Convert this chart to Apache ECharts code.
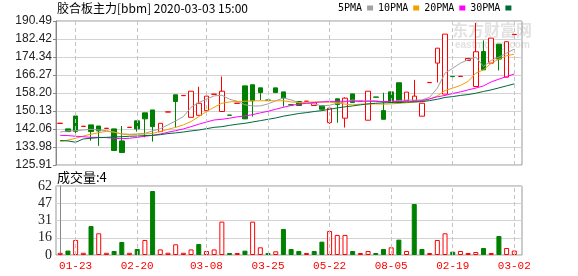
<!DOCTYPE html>
<html><head><meta charset="utf-8">
<script src="https://cdn.jsdelivr.net/npm/echarts@6/dist/echarts.min.js"></script>
<style>html,body{margin:0;padding:0;background:#fff}#c{width:578px;height:276px}</style>
</head><body><div id="c"></div>
<script>
const opens  = [144.55,142.1,147.9,143.2,143.9,143.4,142.3,142.1,136.7,142.75,145.7,149.3,150.6,140.9,149.65,157.4,157.0,147.3,148.2,150.3,157.6,149.9,148.3,153.55,161.4,161.9,160.5,155.05,160.5,158.7,152.95,154.4,154.45,152.6,152.6,144.9,155.6,146.9,157.8,154.45,146.0,156.4,150.3,158.7,162.8,154.7,154.7,147.8,162.85,171.6,157.7,165.65,165.6,172.8,161.1,176.8,171.6,180.1,165.3,184.4];
const closes = [144.65,140.9,141.0,143.3,140.9,141.2,142.4,132.4,131.5,142.85,142.1,146.6,143.1,144.6,149.75,154.4,157.1,159.0,153.6,156.8,157.7,159.0,148.2,153.65,146.6,154.7,158.4,154.95,158.4,156.0,152.85,152.6,154.55,153.8,150.9,151.4,153.0,155.9,153.9,154.55,159.0,156.3,146.4,154.0,153.8,158.6,156.8,153.6,162.95,178.3,184.6,165.55,165.7,173.7,176.7,168.6,182.8,173.4,181.2,184.5];
const lows   = [144.55,140.9,140.2,143.2,136.8,134.5,142.3,132.4,131.5,142.75,140.9,138.3,136.4,140.9,149.65,142.8,157.0,147.3,148.2,150.3,157.6,149.9,148.2,153.55,146.6,147.6,155.1,154.95,158.4,152.1,152.85,152.6,154.45,152.6,150.9,144.3,144.9,142.7,153.9,154.45,146.0,156.3,146.4,154.0,153.8,154.7,154.7,147.8,162.85,162.9,157.7,165.55,165.6,172.8,161.1,168.6,171.6,168.3,165.3,184.4];
const highs  = [144.65,142.1,147.9,143.3,143.9,143.4,142.4,142.1,143.4,142.85,145.7,149.3,150.6,144.6,149.75,157.4,157.1,159.0,161.0,156.8,157.7,165.6,148.3,153.65,161.4,161.9,160.5,155.05,160.5,158.7,152.95,154.4,154.55,153.8,152.6,151.4,155.6,156.3,157.8,154.55,159.0,156.4,158.3,158.7,162.8,158.6,164.1,153.6,162.95,178.3,184.6,165.65,165.7,173.7,189.6,181.8,182.8,180.1,181.2,184.5];
const volumes = [2,4,13.5,2,26,19.5,2,3.6,11.7,2,5.4,13.5,57.5,5,2,9.6,2,5,9.9,3.6,5,30,1.8,1.8,3.9,30,6.9,1.8,3.3,23.4,5.4,3.6,1.8,3.6,12,21.6,18,18,3.6,1.8,3.6,1.8,5.4,6.9,13.8,3.6,45.8,5.4,1.8,13.5,19.5,3,3.6,1.8,2.7,6.3,1.8,17.1,6.3,4];
const ma5  = [140.7,141.2,141.3,141.6,141.9,141.6,141.3,140.7,139.8,139.7,139.8,140.1,141.2,142.2,143.9,145.7,147.6,151.8,153.9,155.4,156.9,157.2,155.4,154.5,152.9,152.4,152.4,153.3,154.7,156.0,155.1,153.9,153.6,153.3,152.4,152.7,153.6,154.2,155.1,154.5,154.7,154.8,154.1,154.4,154.8,155.1,155.0,155.1,156.3,160.4,167.1,169.3,171.6,173.1,174.3,170.1,172.8,174.3,176.1,177.9];
const ma10 = [136.4,137.1,137.9,138.9,139.7,140.4,141.0,140.6,139.8,139.5,139.7,139.8,140.1,140.9,141.9,142.8,143.9,145.4,147.6,149.9,151.8,153.6,154.2,154.4,154.5,154.7,154.7,154.7,154.7,154.7,154.2,153.9,154.1,154.2,154.2,154.1,153.8,153.2,152.9,153.2,153.3,153.3,153.2,153.3,153.6,153.8,154.1,154.5,155.4,156.9,159.3,160.4,161.6,163.4,167.1,168.6,171.6,173.4,174.9,175.6];
const ma20 = [139.2,139.1,138.8,138.6,138.3,138.3,138.2,137.9,137.7,137.9,138.3,138.8,139.2,139.8,140.6,141.3,142.1,143.1,144.2,145.2,146.1,146.4,146.9,147.5,147.9,148.5,149.3,150.0,150.9,151.8,152.6,153.2,153.6,153.9,154.2,154.4,154.5,154.5,154.5,154.5,154.5,154.4,154.4,154.4,154.4,154.5,154.5,154.8,155.6,156.5,157.1,158.0,158.7,159.6,160.4,161.4,163.2,164.4,165.6,166.7];
const ma30 = [136.9,136.7,136.1,137.6,137.9,138.2,138.3,138.5,138.6,138.8,138.9,139.1,139.2,139.5,140.0,140.3,140.7,141.2,141.6,142.2,142.8,143.1,143.7,144.2,144.6,145.2,145.8,146.4,147.0,147.8,148.4,149.0,149.4,149.9,150.3,150.9,151.5,152.0,152.4,152.9,153.3,153.6,153.8,153.9,153.9,154.1,154.2,154.3,154.8,155.4,156.2,156.6,157.1,157.5,158.1,158.9,159.6,160.5,161.4,162.3];
const tickIdx = [2,10,19,27,35,43,51,59];
const tickLabels = ['01-23','02-20','03-08','03-25','05-22','08-05','02-19','03-02'];
const priceTicks = ['125.91','133.98','142.06','150.13','158.20','166.27','174.34','182.42','190.49'];
const volTicks = ['0','16','31','47','62'];
const maNames = ['5PMA','10PMA','20PMA','30PMA'];

const RED = '#ff0000', GREEN = '#008000';
const maColors = ['#a0a0a0','#f0a000','#ff00ff','#00693c'];
const maData = [ma5, ma10, ma20, ma30];

const chart = echarts.init(document.getElementById('c'), null, {renderer: 'canvas'});
const candleData = opens.map((o, i) => [i, o, closes[i], lows[i], highs[i]]);
const volData = volumes.map((v, i) => {
  const up = i === 0 || closes[i] >= closes[i - 1];
  return {value: [i, v], itemStyle: up ? {color: '#fff', borderColor: RED, borderWidth: 1} : {color: GREEN, borderColor: GREEN, borderWidth: 1}};
});
const vLines = tickIdx.map(i => ({xAxis: i}));
const dashStyle = {type: [4, 3], color: '#c4c4c4', width: 1};

const option = {
  animation: false,
  backgroundColor: '#fff',
  title: {text: '胶合板主力[bbm] 2020-03-03 15:00', left: 57, top: 2, padding: 0,
    textStyle: {fontSize: 12, fontWeight: 'normal', color: '#000', fontFamily: 'Noto Sans CJK SC'}},
  legend: {data: maNames, left: 338, top: 3, padding: 0, align: 'right', icon: 'rect', itemWidth: 6, itemHeight: 5, itemGap: 5,
    textStyle: {fontFamily: 'DejaVu Sans Mono', fontSize: 10, color: '#000'}},
  graphic: [
    {type: 'text', left: 57, top: 171, style: {text: '成交量:4', fontSize: 13, fill: '#000', fontFamily: 'Noto Sans CJK SC'}},
    {type: 'text', left: 452, top: 22, z: -1, style: {text: '东方财富网', fontSize: 16, fontWeight: 'bold', fill: '#e2e2e2', fontFamily: 'Noto Sans CJK SC'}},
    {type: 'text', left: 455, top: 40, z: -1, style: {text: 'eastmoney.com', fontSize: 10, fontWeight: 'bold', fill: '#e2e2e2', fontFamily: 'Liberation Sans'}}
  ],
  grid: [
    {left: 56, right: 56, top: 21, height: 144, show: true, borderColor: '#999', borderWidth: 1},
    {left: 56, right: 56, top: 186, height: 69, show: true, borderColor: '#999', borderWidth: 1}
  ],
  xAxis: [
    {type: 'value', gridIndex: 0, min: -0.55, max: 60, axisLabel: {show: false}, axisLine: {show: false}, axisTick: {show: false}, splitLine: {show: false}},
    {type: 'value', gridIndex: 1, min: -0.55, max: 60, axisLine: {show: false}, axisTick: {show: false}, splitLine: {show: false},
      axisLabel: {customValues: tickIdx, formatter: v => tickLabels[tickIdx.indexOf(Math.round(v))] || '', color: RED, fontFamily: 'Liberation Mono', fontSize: 11, margin: 6}}
  ],
  yAxis: [
    {type: 'value', gridIndex: 0, min: 125.91, max: 190.49, position: 'left', show: false, splitLine: {show: false}},
    {type: 'category', gridIndex: 0, data: priceTicks, boundaryGap: false, position: 'left',
      axisLine: {show: true, lineStyle: {color: '#888'}}, axisTick: {show: true, length: 3, lineStyle: {color: '#888'}},
      axisLabel: {color: '#222', fontSize: 12, fontFamily: 'Liberation Sans', margin: 4},
      splitLine: {show: true, lineStyle: {color: '#d3d3d3', width: 1}}},
    {type: 'value', gridIndex: 1, min: 0, max: 62, interval: 15.5, position: 'left',
      axisLine: {show: true, lineStyle: {color: '#888'}}, axisTick: {show: false},
      axisLabel: {formatter: v => volTicks[Math.round(v / 15.5)], color: '#222', fontSize: 14, fontFamily: 'Liberation Serif', margin: 4},
      splitLine: {show: true, lineStyle: {color: '#d3d3d3', width: 1}}}
  ],
  series: [
    {type: 'line', xAxisIndex: 0, yAxisIndex: 0, data: [], z: 1, silent: true,
      markLine: {symbol: ['none', 'none'], silent: true, label: {show: false}, lineStyle: dashStyle, data: vLines}},
    {type: 'line', xAxisIndex: 1, yAxisIndex: 2, data: [], z: 1, silent: true,
      markLine: {symbol: ['none', 'none'], silent: true, label: {show: false}, lineStyle: dashStyle, data: vLines}},
    {type: 'candlestick', name: 'K', xAxisIndex: 0, yAxisIndex: 0, data: candleData, encode: {x: 0, y: [1, 2, 3, 4]},
      barWidth: 5, z: 3,
      itemStyle: {color: '#fff', color0: GREEN, borderColor: RED, borderColor0: GREEN, borderWidth: 1}},
    ...maNames.map((n, k) => ({type: 'line', name: n, xAxisIndex: 0, yAxisIndex: 0, z: 4,
      data: maData[k].map((v, i) => [i, v]), symbol: 'none', showSymbol: false,
      lineStyle: {color: maColors[k], width: 1}, itemStyle: {color: maColors[k]}})),
    {type: 'bar', name: 'VOL', xAxisIndex: 1, yAxisIndex: 2, data: volData, barWidth: 5, z: 3}
  ]
};
chart.setOption(option);
</script></body></html>
